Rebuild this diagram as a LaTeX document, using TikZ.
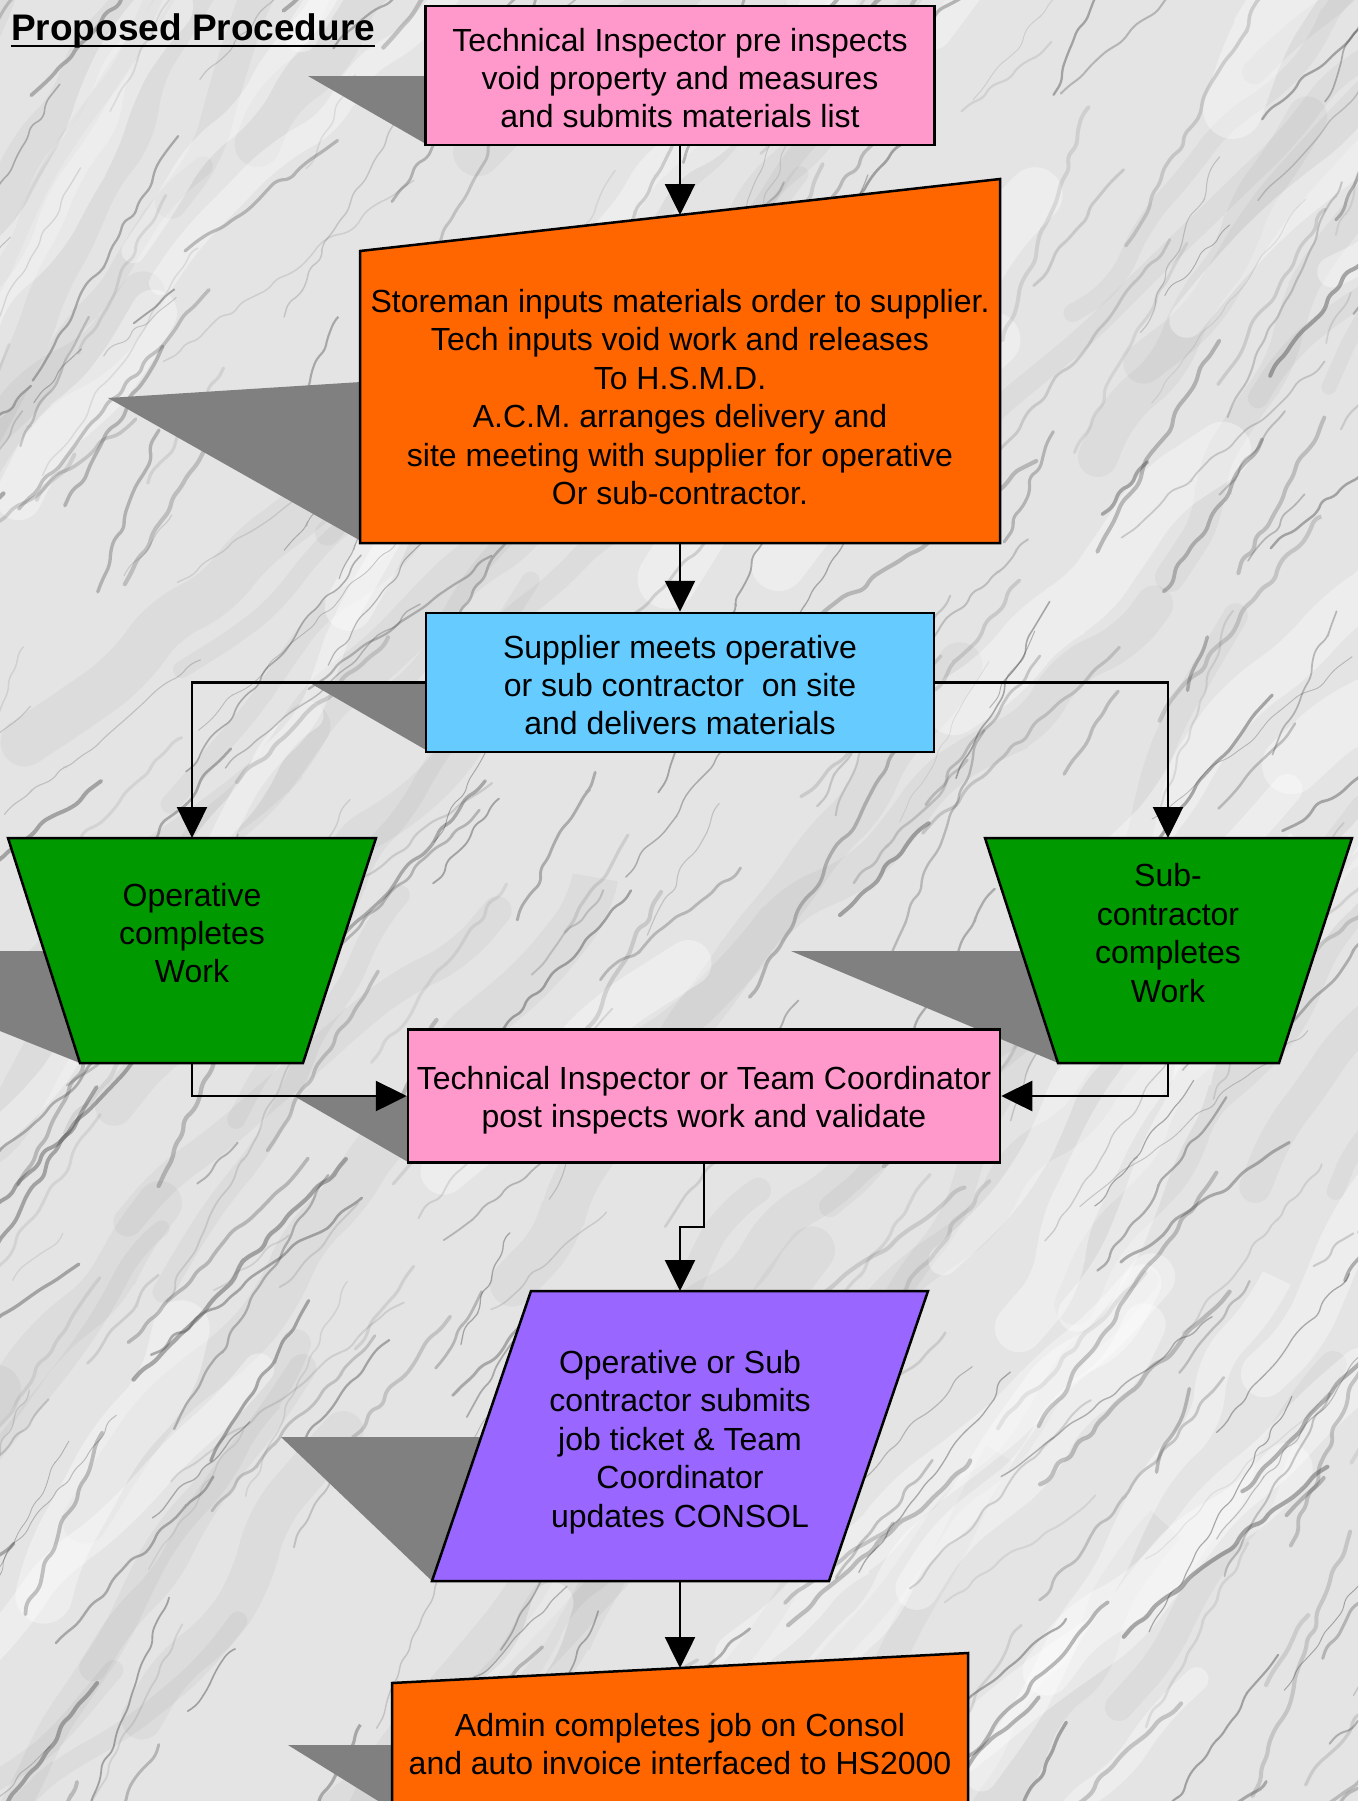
\documentclass[tikz,border=0pt]{standalone}
\usepackage{fontspec}
\setmainfont{Liberation Sans}
\usetikzlibrary{arrows.meta,decorations.pathmorphing}

\definecolor{pinkfill}{HTML}{FF99CC}
\definecolor{orangefill}{HTML}{FF6600}
\definecolor{bluefill}{HTML}{66CCFF}
\definecolor{greenfill}{HTML}{009900}
\definecolor{purplefill}{HTML}{9966FF}
\definecolor{shadowgray}{HTML}{808080}
\definecolor{marblebase}{HTML}{E4E4E4}
\definecolor{veincolor}{HTML}{4A4A4A}

\begin{document}
\begin{tikzpicture}[x=1pt,y=-1pt,
  outline/.style={draw=black, line width=2.5pt, line join=miter},
  boxtext/.style={font=\fontsize{32}{38.4}\selectfont, align=center, inner sep=0pt},
  rectbox/.style={outline, inner sep=0pt},
  dropshadow/.style={fill=shadowgray},
  flow/.style={draw=black, line width=2.5pt, -{Triangle[length=31pt,width=30pt]}},
  vein/.style={draw=veincolor, line cap=round, rounded corners=6pt,
    decorate, decoration={random steps, segment length=14pt, amplitude=4pt}},
  band/.style={draw=veincolor, line cap=round, rounded corners=30pt,
    decorate, decoration={random steps, segment length=60pt, amplitude=15pt}}]

\useasboundingbox (0,0) rectangle (1358,1801);
\clip (0,0) rectangle (1358,1801);

% marble backdrop: pale stone, broad soft cloudy bands, fine dark veins
\fill[marblebase] (0,0) rectangle (1358,1801);
\pgfmathsetseed{4242}
\foreach \i in {1,...,70}{
  \pgfmathsetmacro{\sx}{rnd*1800-400}
  \pgfmathsetmacro{\sy}{rnd*2200}
  \pgfmathsetmacro{\len}{300+rnd*600}
  \pgfmathsetmacro{\ang}{40+rnd*25}
  \pgfmathsetmacro{\dx}{\len*cos(\ang)}
  \pgfmathsetmacro{\dy}{-\len*sin(\ang)}
  \pgfmathsetmacro{\lw}{15+rnd*35}
  \draw[band, line width=\lw pt, draw opacity=0.05] (\sx,\sy) -- ++(\dx,\dy);
}
\foreach \i in {1,...,40}{
  \pgfmathsetmacro{\sx}{rnd*1800-400}
  \pgfmathsetmacro{\sy}{rnd*2200}
  \pgfmathsetmacro{\len}{200+rnd*400}
  \pgfmathsetmacro{\ang}{40+rnd*25}
  \pgfmathsetmacro{\dx}{\len*cos(\ang)}
  \pgfmathsetmacro{\dy}{-\len*sin(\ang)}
  \pgfmathsetmacro{\lw}{20+rnd*40}
  \draw[band, draw=white, line width=\lw pt, draw opacity=0.35] (\sx,\sy) -- ++(\dx,\dy);
}
\foreach \i in {1,...,420}{
  \pgfmathsetmacro{\sx}{rnd*1800-350}
  \pgfmathsetmacro{\sy}{rnd*2200}
  \pgfmathsetmacro{\len}{50+rnd*260}
  \pgfmathsetmacro{\ang}{35+rnd*35}
  \pgfmathsetmacro{\dx}{\len*cos(\ang)}
  \pgfmathsetmacro{\dy}{-\len*sin(\ang)}
  \pgfmathsetmacro{\lw}{0.8+rnd*3.5}
  \pgfmathsetmacro{\op}{0.10+rnd*0.35}
  \draw[vein, line width=\lw pt, draw opacity=\op] (\sx,\sy) -- ++(\dx,\dy);
}

% title
\node[anchor=base west, inner sep=0pt, font=\fontsize{37}{44}\selectfont\bfseries]
  (title) at (11,41) {Proposed Procedure};
\draw[line width=2.4pt] ([yshift=-5pt]title.base west) -- ([yshift=-5pt]title.base east);

% drop shadows
\fill[dropshadow] (308,76) -- (426,76) -- (426,144) -- cycle;
\fill[dropshadow] (108,398) -- (361,382) -- (361,541) -- cycle;
\fill[dropshadow] (310,683) -- (426,683) -- (426,750) -- cycle;
\fill[dropshadow] (0,951) -- (44,951) -- (80,1063) -- (0,1031) -- cycle;
\fill[dropshadow] (791,951) -- (1022,951) -- (1058,1063) -- cycle;
\fill[dropshadow] (294,1096) -- (408,1096) -- (408,1162) -- cycle;
\fill[dropshadow] (281,1437) -- (482,1437) -- (432,1581) -- cycle;
\fill[dropshadow] (288,1745) -- (392,1745) -- (392,1830) -- (425,1830) -- cycle;

% process boxes
\node[rectbox, fill=pinkfill, minimum width=509pt, minimum height=139pt]
  (inspect) at (680,75.5) {};
\node[boxtext] (inspectText) at (680,78)
  {Technical Inspector pre inspects\\void property and measures\\and submits materials list};

\draw[outline, fill=orangefill] (360,251) -- (1000,179) -- (1000,543) -- (360,543) -- cycle;
\node[boxtext] (storeman) at (680,397)
  {Storeman inputs materials order to supplier.\\Tech inputs void work and releases\\To H.S.M.D.\\A.C.M. arranges delivery and\\site meeting with supplier for operative\\Or sub-contractor.};
\coordinate (storemanTop) at (680,215);
\coordinate (storemanBottom) at (680,543);

\node[rectbox, fill=bluefill, minimum width=508pt, minimum height=139pt]
  (supplier) at (680,682.5) {};
\node[boxtext] (supplierText) at (680,685)
  {Supplier meets operative\\or sub contractor\ \ on site\\and delivers materials};

\draw[outline, fill=greenfill] (8,838) -- (376,838) -- (303,1063) -- (80,1063) -- cycle;
\node[boxtext] (operative) at (192,933) {Operative\\completes\\Work};
\coordinate (operativeTop) at (192,838);
\coordinate (operativeBottom) at (192,1063);

\draw[outline, fill=greenfill] (985,838) -- (1352,838) -- (1279,1063) -- (1058,1063) -- cycle;
\node[boxtext] (subcon) at (1168,933) {Sub-\\contractor\\completes\\Work};
\coordinate (subconTop) at (1168,838);
\coordinate (subconBottom) at (1168,1063);

\node[rectbox, fill=pinkfill, minimum width=592pt, minimum height=133pt]
  (validate) at (704,1096) {};
\node[boxtext] (validateText) at (704,1100)
  {Technical Inspector or Team Coordinator\\post inspects work and validate};

\draw[outline, fill=purplefill] (531,1291) -- (928,1291) -- (829,1581) -- (432,1581) -- cycle;
\node[boxtext] (ticket) at (680,1442)
  {Operative or Sub\\contractor submits\\job ticket \& Team\\Coordinator\\updates CONSOL};
\coordinate (ticketTop) at (680,1291);
\coordinate (ticketBottom) at (680,1581);
\coordinate (elbow) at (680,1227);

\draw[outline, fill=orangefill] (392,1683) -- (968,1653) -- (968,1840) -- (392,1840) -- cycle;
\node[boxtext] (admin) at (680,1744)
  {Admin completes job on Consol\\and auto invoice interfaced to HS2000};
\coordinate (adminTop) at (680,1668);

% connectors
\draw[flow] (inspect.south) -- (storemanTop);
\draw[flow] (storemanBottom) -- (supplier.north);
\draw[flow] (supplier.west) -| (operativeTop);
\draw[flow] (supplier.east) -| (subconTop);
\draw[flow] (operativeBottom) |- (validate.west);
\draw[flow] (subconBottom) |- (validate.east);
\draw[flow] (validate.south) -- (validate.south |- elbow) -- (elbow) -- (ticketTop);
\draw[flow] (ticketBottom) -- (adminTop);
\end{tikzpicture}
\end{document}
